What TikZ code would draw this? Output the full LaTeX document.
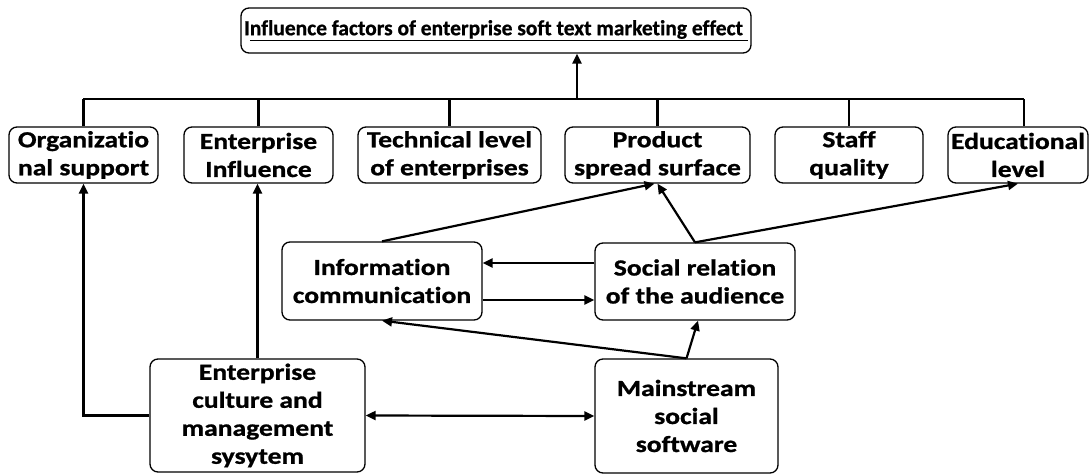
\documentclass[tikz,border=0pt]{standalone}
\usepackage{fontspec}
\setmainfont{Carlito}[Ligatures=NoCommon,BoldFeatures={FakeBold=0.8}]
\newfontfamily\boxfont{Carlito}[FakeStretch=1.2,Ligatures=NoCommon,BoldFeatures={FakeBold=1}]
\usetikzlibrary{arrows.meta}
\begin{document}
\begin{tikzpicture}[x=1pt,y=-1pt,
  box/.style={draw,rounded corners=8pt,line width=1.3pt,inner sep=0pt,align=center,
    font=\boxfont\fontsize{23}{28}\selectfont\bfseries},
  conn/.style={line width=2.2pt},
  arr/.style={line width=2.2pt,-{Triangle[length=10pt,width=9pt]}},
  darr/.style={line width=2.2pt,{Triangle[length=10pt,width=9pt]}-{Triangle[length=10pt,width=9pt]}}]
\useasboundingbox (0,0) rectangle (1092,474);
\node[box,minimum width=510pt,minimum height=45pt,font=\fontsize{21.5}{25}\selectfont\bfseries] (title) at (496,30.5)
  {I\underline{nfluence factors of enterprise soft text marketing effect\ }};
\node[box,minimum width=149pt,minimum height=56pt] (org) at (83.5,155) {Organizatio\\nal support};
\node[box,minimum width=149pt,minimum height=56pt] (ei) at (258.5,155) {Enterprise\\Influence};
\node[box,minimum width=183pt,minimum height=56pt] (tl) at (449.5,155) {Technical level\\of enterprises};
\node[box,minimum width=185pt,minimum height=56pt] (ps) at (657.5,155) {Product\\spread surface};
\node[box,minimum width=148pt,minimum height=56pt] (sq) at (849,155) {Staff\\quality};
\node[box,minimum width=140pt,minimum height=56pt] (el) at (1018,155) {Educational\\level};
\node[box,minimum width=200pt,minimum height=78pt] (ic) at (382,281) {Information\\communication};
\node[box,minimum width=200pt,minimum height=77pt] (sr) at (695,281.5) {Social relation\\of the audience};
\node[box,minimum width=215pt,minimum height=113pt] (ec) at (257.5,415.5) {Enterprise\\culture and\\management\\sysytem};
\node[box,minimum width=183pt,minimum height=114pt] (ms) at (686.5,416) {Mainstream\\social\\software};
\coordinate (tbus) at (577,99);
\coordinate (bl) at (83,99);
\coordinate (br) at (1024,99);
\draw[conn] (bl) -- (br);
\draw[conn] (org.north) -- (org.north |- bl);
\draw[conn] (ei.north) -- (ei.north |- bl);
\draw[conn] (tl.north) -- (tl.north |- bl);
\draw[conn] (ps.north) -- (ps.north |- bl);
\draw[conn] (sq.north) -- (sq.north |- bl);
\draw[conn] ([xshift=6pt]el.north) -- (br);
\draw[arr,line width=2.8pt] (tbus) -- (title.south -| tbus);
\draw[arr] (ic.north) -- ([xshift=-3pt]ps.south);
\draw[arr] (sr.north) -- (ps.south);
\draw[arr] (sr.north) -- (el.south);
\draw[arr] ([yshift=18.5pt]sr.west) -- ([yshift=18.5pt]sr.west -| ic.east);
\draw[arr] ([yshift=-19pt]ic.east) -- ([yshift=-19pt]ic.east -| sr.west);
\draw[arr] (ms.north) -- (ic.south);
\draw[arr] (ms.north) -- ([xshift=3pt]sr.south);
\draw[arr] (ec.west) -| (org.south);
\draw[arr] (ec.north) -- (ec.north |- ei.south);
\draw[darr] (ec.east) -- (ms.west);
\end{tikzpicture}
\end{document}
